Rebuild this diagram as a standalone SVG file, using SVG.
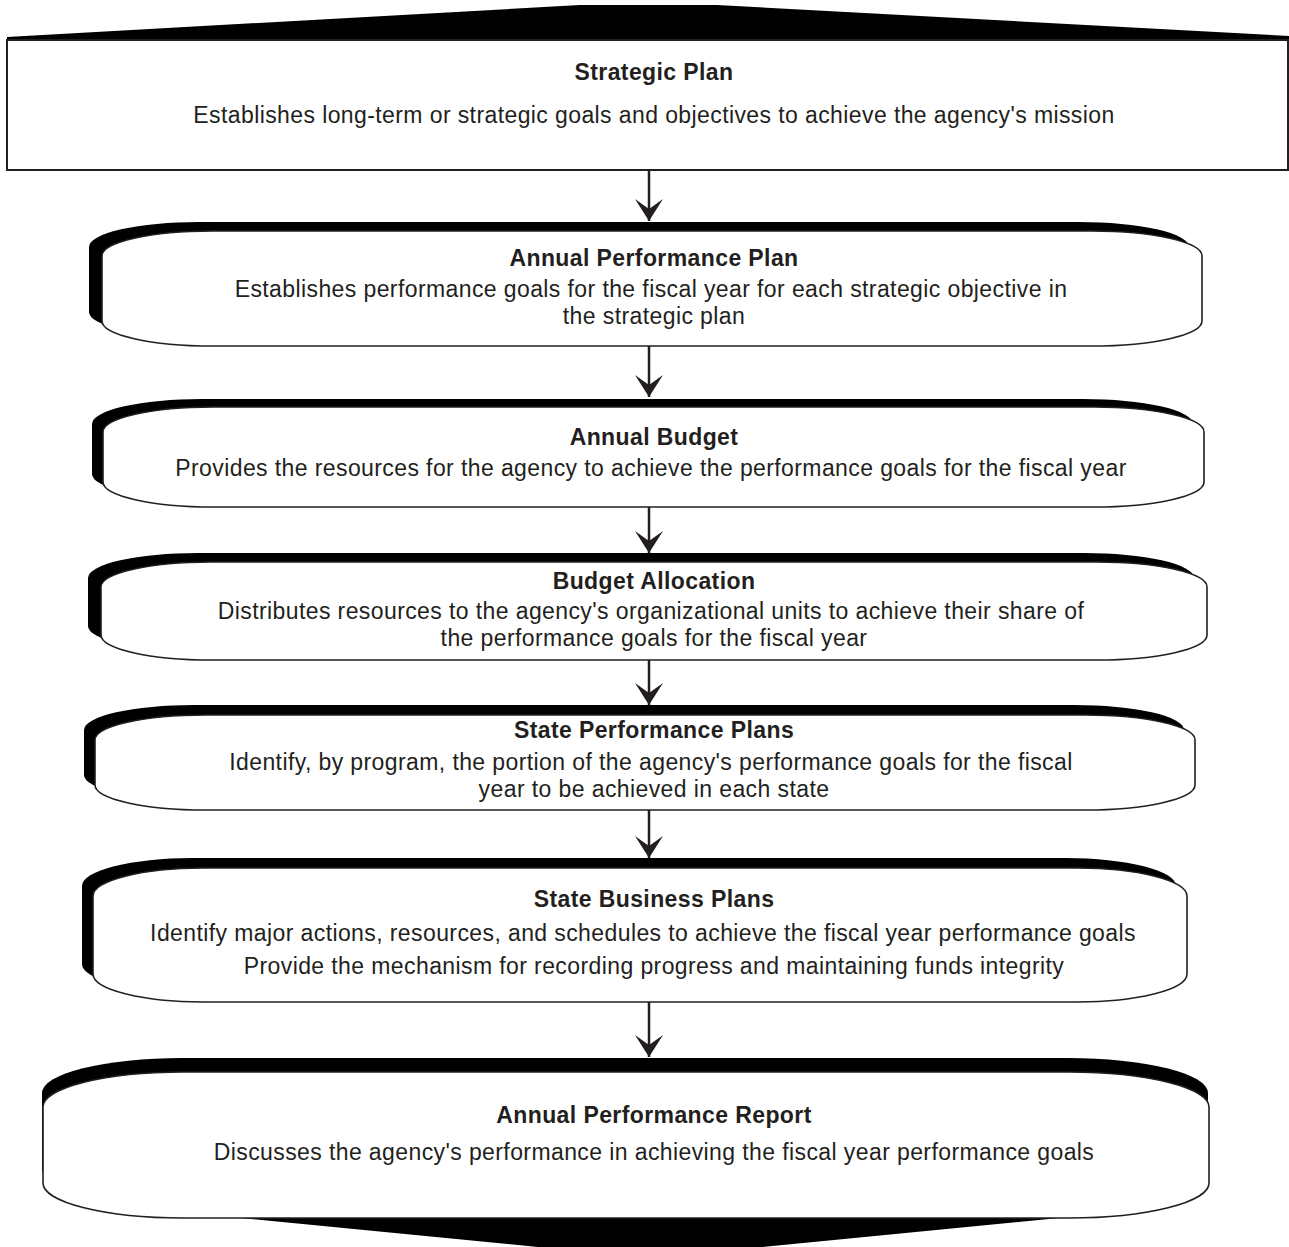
<svg xmlns="http://www.w3.org/2000/svg" width="1289" height="1247" viewBox="0 0 1289 1247">
<defs>
<style>
.t{font-family:"Liberation Sans",Arial,sans-serif;font-size:23px;letter-spacing:0.4px;fill:#231f20;text-anchor:middle}
.b{font-weight:bold}
.sh{fill:#000}
.bx{fill:#fff;stroke:#231f20;stroke-width:1.6}
.ln{stroke:#231f20;stroke-width:2.5;fill:none}
</style>
<marker id="ah" viewBox="0 0 22 28" refX="22" refY="14" markerWidth="22" markerHeight="28" markerUnits="userSpaceOnUse" orient="auto">
<path d="M0,0 L10,14 L0,28 L22,14 Z" fill="#231f20"/>
</marker>
</defs>
<rect width="1289" height="1247" fill="#fff"/>

<g id="connectors">
<line class="ln" x1="649" y1="170" x2="649" y2="221" marker-end="url(#ah)"/>
<line class="ln" x1="649" y1="346" x2="649" y2="397" marker-end="url(#ah)"/>
<line class="ln" x1="649" y1="507" x2="649" y2="553" marker-end="url(#ah)"/>
<line class="ln" x1="649" y1="660" x2="649" y2="705" marker-end="url(#ah)"/>
<line class="ln" x1="649" y1="810" x2="649" y2="858" marker-end="url(#ah)"/>
<line class="ln" x1="649" y1="1002" x2="649" y2="1057" marker-end="url(#ah)"/>
</g>

<g id="strategic-plan">
<polygon class="sh" points="7,40 7,37 580,5 717,5 1289,36 1289,41"/>
<rect x="7" y="40" width="1281" height="130" fill="#fff" stroke="#231f20" stroke-width="2"/>
<text class="t b" x="654" y="80">Strategic Plan</text>
<text class="t" x="654" y="123">Establishes long-term or strategic goals and objectives to achieve the agency's mission</text>
</g>

<g id="annual-performance-plan">
<rect class="sh" x="89" y="222" width="1100" height="115" rx="110" ry="25"/>
<rect class="bx" x="102" y="231" width="1100" height="115" rx="110" ry="25"/>
<text class="t b" x="654" y="266">Annual Performance Plan</text>
<text class="t" x="651" y="297">Establishes performance goals for the fiscal year for each strategic objective in</text>
<text class="t" x="654" y="324">the strategic plan</text>
</g>

<g id="annual-budget">
<rect class="sh" x="92" y="399" width="1101" height="100" rx="110" ry="25"/>
<rect class="bx" x="103" y="407" width="1101" height="100" rx="110" ry="25"/>
<text class="t b" x="654" y="445">Annual Budget</text>
<text class="t" x="651" y="476">Provides the resources for the agency to achieve the performance goals for the fiscal year</text>
</g>

<g id="budget-allocation">
<rect class="sh" x="88" y="553" width="1106" height="98" rx="110" ry="25"/>
<rect class="bx" x="101" y="562" width="1106" height="98" rx="110" ry="25"/>
<text class="t b" x="654" y="589">Budget Allocation</text>
<text class="t" x="651" y="619">Distributes resources to the agency's organizational units to achieve their share of</text>
<text class="t" x="654" y="646">the performance goals for the fiscal year</text>
</g>

<g id="state-performance-plans">
<rect class="sh" x="84" y="705" width="1100" height="95" rx="110" ry="25"/>
<rect class="bx" x="95" y="715" width="1100" height="95" rx="110" ry="25"/>
<text class="t b" x="654" y="738">State Performance Plans</text>
<text class="t" x="651" y="770">Identify, by program, the portion of the agency's performance goals for the fiscal</text>
<text class="t" x="654" y="797">year to be achieved in each state</text>
</g>

<g id="state-business-plans">
<rect class="sh" x="82" y="858" width="1094" height="134" rx="110" ry="28"/>
<rect class="bx" x="93" y="868" width="1094" height="134" rx="110" ry="28"/>
<text class="t b" x="654" y="907">State Business Plans</text>
<text class="t" x="643" y="941">Identify major actions, resources, and schedules to achieve the fiscal year performance goals</text>
<text class="t" x="654" y="974">Provide the mechanism for recording progress and maintaining funds integrity</text>
</g>

<g id="annual-performance-report">
<polygon class="sh" points="160,1210 650,1258 1140,1210"/>
<rect class="sh" x="42" y="1058" width="1166" height="146" rx="140" ry="35"/>
<rect class="bx" x="43" y="1072" width="1166" height="146" rx="140" ry="35"/>
<text class="t b" x="654" y="1123">Annual Performance Report</text>
<text class="t" x="654" y="1160">Discusses the agency's performance in achieving the fiscal year performance goals</text>
</g>
</svg>
